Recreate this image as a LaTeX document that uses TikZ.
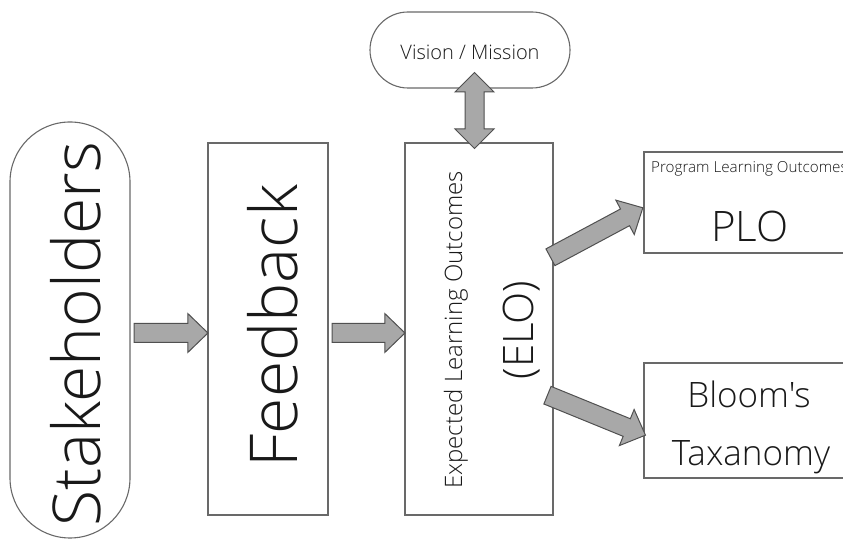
\documentclass[tikz,border=0pt]{standalone}
\usepackage{fontspec}
\setmainfont{Open Sans Light}[Ligatures=TeXOff]
\usetikzlibrary{shapes.arrows,calc}
\definecolor{boxline}{RGB}{105,105,105}
\definecolor{arrowfill}{RGB}{168,168,168}
\definecolor{arrowline}{RGB}{80,80,80}
\definecolor{ink}{RGB}{25,25,25}
\tikzset{
  box/.style={draw=boxline, line width=1.1pt, fill=white, inner sep=0pt},
  fatarrow/.style={single arrow, draw=arrowline, fill=arrowfill, line width=1pt,
    inner sep=0pt, text height=18pt, text depth=0pt,
    single arrow head extend=10pt, single arrow tip angle=88},
  dblarrow/.style={double arrow, draw=arrowline, fill=arrowfill, line width=1pt,
    inner sep=0pt, text height=18pt, text depth=0pt,
    double arrow head extend=10pt, double arrow tip angle=90},
  txt/.style={inner sep=0pt, text=ink},
}
\newcommand\fatarrowdraw[3]{%
  \path let \p1=(#2), \p2=(#3),
    \n1={atan2(\y2-\y1,\x2-\x1)}, \n2={veclen(\x2-\x1,\y2-\y1)} in
    node[fatarrow, name=#1, rotate=\n1, minimum height=\n2, anchor=tail] at (\p1) {};%
}
\begin{document}
\begin{tikzpicture}[x=1pt,y=1pt]
\useasboundingbox (0,0) rectangle (843,540);
\clip (0,0) rectangle (843,540);

% boxes
\node[box, rotate=90, minimum width=416pt, minimum height=120pt, rounded corners=60pt] (stake) at (70,210) {};
\node[box, minimum width=120pt, minimum height=372pt] (fb) at (268,211) {};
\node[box, minimum width=148pt, minimum height=372pt] (elo) at (479,211) {};
\node[box, minimum width=200pt, minimum height=76pt, rounded corners=38pt] (vision) at (470,490) {};
\node[box, minimum width=212pt, minimum height=101pt] (plo) at (750,337.5) {};
\node[box, minimum width=212pt, minimum height=115pt] (bloom) at (750,119.5) {};

% texts
\node[txt, rotate=90, anchor=base, font=\fontsize{66}{70}\selectfont] (stakeT) at (100,206) {Stakeholders};
\node[txt, rotate=90, anchor=base, font=\fontsize{66}{70}\selectfont] (fbT) at (297,214) {Feedback};
\node[txt, rotate=90, anchor=base, font=\fontsize{24}{28}\selectfont] (eloT) at (462,210) {Expected Learning Outcomes};
\node[txt, rotate=90, anchor=base, font=\fontsize{42}{46}\selectfont] (eloA) at (533,210) {(ELO)};
\node[txt, anchor=base, font=\fontsize{20}{24}\selectfont] (visionT) at (470,480) {Vision / Mission};
\node[txt, anchor=base west, font=\fontsize{15.2}{18}\selectfont] (ploT) at (651,367) {Program Learning Outcomes};
\node[txt, anchor=base, font=\fontsize{42}{46}\selectfont] (ploA) at (750,298) {PLO};
\node[txt, anchor=base, font=\fontsize{35}{40}\selectfont] (bloomT) at (749,132) {Bloom's};
\node[txt, anchor=base, font=\fontsize{35}{40}\selectfont] (taxT) at (751,74) {Taxanomy};

% connector end points
\coordinate (a1s) at ($(stake.south)+(3,-3)$);
\coordinate (a1e) at (fb.west |- a1s);
\coordinate (a2s) at ($(fb.east |- a1s)+(3,0)$);
\coordinate (a2e) at (elo.west |- a1s);
\coordinate (a3s) at (550,282.5);
\coordinate (a3e) at ($(plo.west)+(-1,-5.5)$);
\coordinate (a4s) at (547,145);
\coordinate (a4e) at (645,105);

% arrows
\fatarrowdraw{a1}{a1s}{a1e}
\fatarrowdraw{a2}{a2s}{a2e}
\fatarrowdraw{a3}{a3s}{a3e}
\fatarrowdraw{a4}{a4s}{a4e}
\node[dblarrow, rotate=90, minimum height=76pt] (vm) at ($(vision.south)!0.5!(elo.north)+(0,5)$) {};
\end{tikzpicture}
\end{document}
